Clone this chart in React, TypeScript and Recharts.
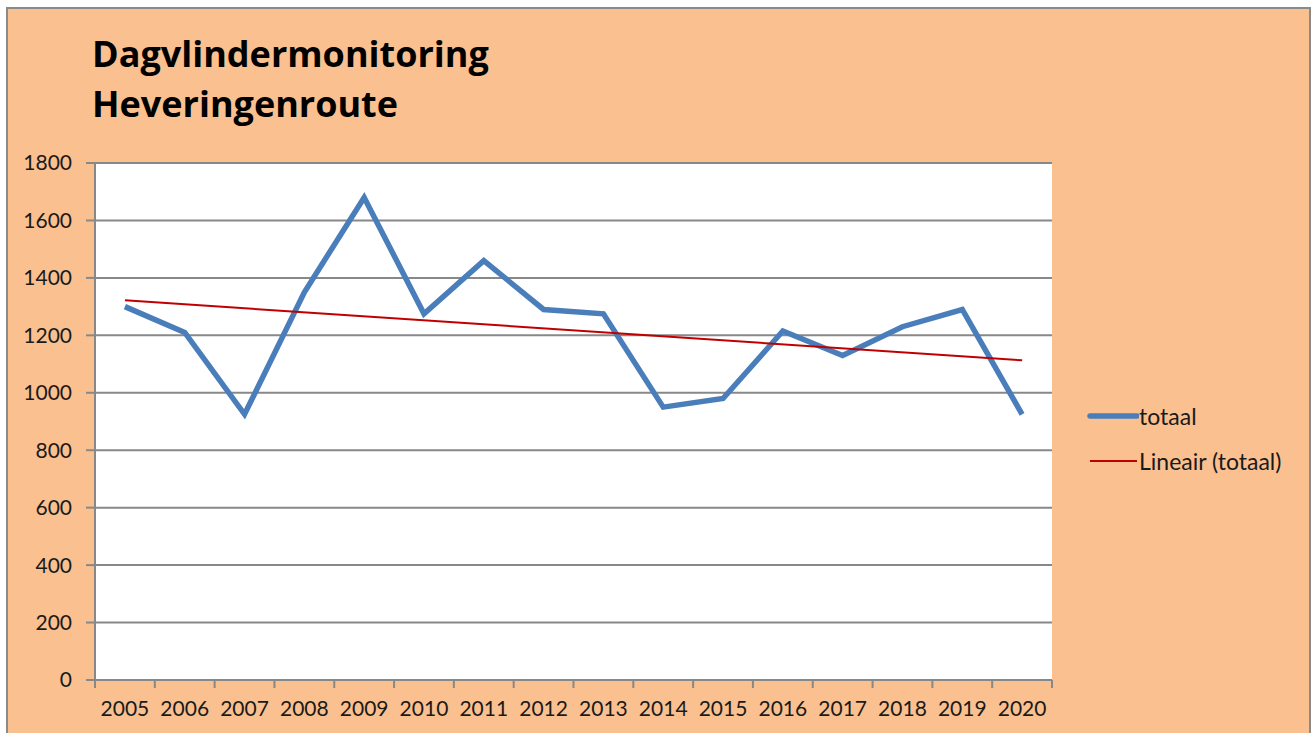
import React from 'react';
import { LineChart, Line, XAxis, YAxis, CartesianGrid, Legend } from 'recharts';

const YEARS = ['2005', '2006', '2007', '2008', '2009', '2010', '2011', '2012', '2013', '2014', '2015', '2016', '2017', '2018', '2019', '2020'];
const TOTAAL = [1300, 1210, 925, 1350, 1680, 1275, 1460, 1290, 1275, 950, 980, 1215, 1130, 1230, 1290, 925];
// trend line: only its two ends
const TREND = [1322, null, null, null, null, null, null, null, null, null, null, null, null, null, null, 1113];
const Y_TICKS = [0, 200, 400, 600, 800, 1000, 1200, 1400, 1600, 1800];
const SERIES_ORDER = ['totaal', 'trend'];

const data = YEARS.map((year, i) => ({ year, totaal: TOTAAL[i], trend: TREND[i] }));

const FONT = 'Lato, "Open Sans", sans-serif';
const GRID = '#888888';
const BLUE = '#4a7ebb';
const RED = '#c00000';
const X_TICK_SIZE = 6;
const X_TICK_MARGIN = 15;

// year label in the middle of its band, tick mark on the band edges (Excel style)
const YearTick = (props: any) => {
  const { x, y, payload, index } = props;
  const half = payload.offset || 0;
  const axisY = y - X_TICK_SIZE - X_TICK_MARGIN;
  const isLast = index === YEARS.length - 1;
  return (
    <g>
      <line x1={x - half} y1={axisY} x2={x - half} y2={axisY + 8} stroke={GRID} strokeWidth={2} />
      {isLast && <line x1={x + half} y1={axisY} x2={x + half} y2={axisY + 8} stroke={GRID} strokeWidth={2} />}
      <text x={x} y={y} dy="0.71em" textAnchor="middle" fill="#1a1a1a" fontSize={21} fontFamily={FONT}>
        {payload.value}
      </text>
    </g>
  );
};

const LegendBox = ({ payload }: any) => {
  const items = [...(payload || [])].sort(
    (a: any, b: any) => SERIES_ORDER.indexOf(a.dataKey) - SERIES_ORDER.indexOf(b.dataKey)
  );
  return (
    <div style={{ fontFamily: FONT, fontSize: 23, color: '#1a1a1a' }}>
      {items.map((entry: any) => (
        <div key={entry.value} style={{ display: 'flex', alignItems: 'center', height: 45 }}>
          <svg width={52} height={10}>
            <line
              x1={3}
              y1={5}
              x2={50}
              y2={5}
              stroke={entry.color}
              strokeWidth={entry.dataKey === 'totaal' ? 5.5 : 2}
              strokeLinecap={entry.dataKey === 'totaal' ? 'round' : 'butt'}
            />
          </svg>
          <span>{entry.value}</span>
        </div>
      ))}
    </div>
  );
};

export default function App() {
  return (
    <div style={{ position: 'absolute', left: 0, top: 0, width: 1316, height: 733, overflow: 'hidden' }}>
      <div
        style={{
          position: 'absolute',
          left: 6,
          top: 7,
          width: 1301,
          height: 760,
          background: '#fac090',
          border: '2px solid #8a8a8a',
        }}
      />
      <div
        style={{
          position: 'absolute',
          left: 92,
          top: 29,
          fontFamily: '"Open Sans", sans-serif',
          fontWeight: 700,
          fontSize: 36,
          lineHeight: '49.5px',
          color: '#000',
          whiteSpace: 'nowrap',
        }}
      >
        Dagvlindermonitoring
        <br />
        Heveringenroute
      </div>
      <div style={{ position: 'absolute', left: 0, top: 0 }}>
        <LineChart
          width={1316}
          height={733}
          data={data}
          margin={{ top: 163, right: 264, bottom: 8, left: 35 }}
        >
          <CartesianGrid vertical={false} stroke={GRID} strokeWidth={2} fill="#ffffff" />
          <XAxis
            dataKey="year"
            scale="band"
            interval={0}
            height={45}
            tickLine={false}
            tickSize={X_TICK_SIZE}
            tickMargin={X_TICK_MARGIN}
            axisLine={{ stroke: GRID, strokeWidth: 2 }}
            tick={<YearTick />}
          />
          <YAxis
            domain={[0, 1800]}
            ticks={Y_TICKS}
            width={60}
            tickSize={9}
            tickMargin={14}
            axisLine={{ stroke: GRID, strokeWidth: 2 }}
            tickLine={{ stroke: GRID, strokeWidth: 2 }}
            tick={{ fill: '#1a1a1a', fontSize: 21, fontFamily: FONT }}
          />
          <Legend
            layout="vertical"
            align="center"
            verticalAlign="middle"
            content={<LegendBox />}
            wrapperStyle={{ position: 'absolute', left: 1087, top: 393, width: 225 }}
          />
          <Line
            name="totaal"
            dataKey="totaal"
            stroke={BLUE}
            strokeWidth={5.5}
            dot={false}
            activeDot={false}
            isAnimationActive={false}
          />
          <Line
            name="Lineair (totaal)"
            dataKey="trend"
            stroke={RED}
            strokeWidth={2}
            dot={false}
            activeDot={false}
            connectNulls
            isAnimationActive={false}
          />
        </LineChart>
      </div>
    </div>
  );
}
